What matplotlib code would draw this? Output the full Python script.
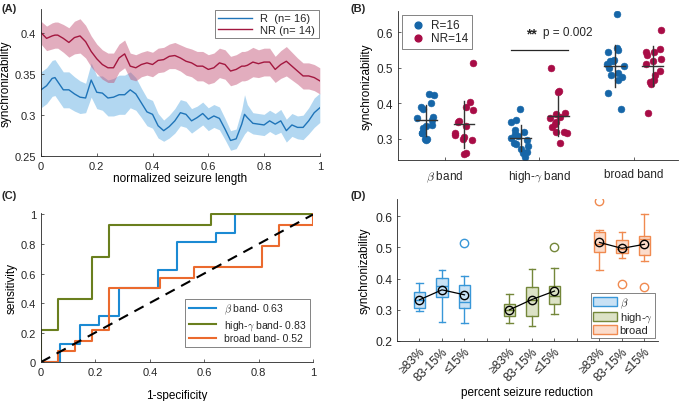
import numpy as np
import matplotlib
matplotlib.use("Agg")
import matplotlib.pyplot as plt
from matplotlib.patches import Patch

plt.rcParams['font.family'] = ['Liberation Sans', 'DejaVu Sans']
plt.rcParams['mathtext.fontset'] = 'cm'
plt.rcParams['axes.linewidth'] = 0.6
plt.rcParams['xtick.direction'] = 'in'
plt.rcParams['ytick.direction'] = 'in'
plt.rcParams['xtick.major.size'] = 2.5
plt.rcParams['ytick.major.size'] = 2.5
plt.rcParams['xtick.major.width'] = 0.5
plt.rcParams['ytick.major.width'] = 0.5
plt.rcParams['text.color'] = '#262626'
plt.rcParams['axes.edgecolor'] = '#262626'
plt.rcParams['xtick.color'] = '#262626'
plt.rcParams['ytick.color'] = '#262626'

# ---------------- data: (A) time course ----------------
a_x = [0, 0.02, 0.04, 0.05, 0.06, 0.08, 0.10, 0.12, 0.14, 0.16, 0.18, 0.20, 0.22,
       0.24, 0.26, 0.28, 0.30, 0.32, 0.34, 0.36, 0.38, 0.40, 0.42, 0.44, 0.46,
       0.48, 0.50, 0.52, 0.54, 0.56, 0.58, 0.60, 0.62, 0.64, 0.66, 0.68, 0.70,
       0.72, 0.73, 0.74, 0.76, 0.78, 0.80, 0.82, 0.84, 0.86, 0.88, 0.90, 0.92,
       0.94, 0.96, 0.98, 1.00]
r_mean = [0.331, 0.336, 0.345, 0.346, 0.341, 0.331, 0.331, 0.326, 0.322, 0.321,
          0.343, 0.328, 0.327, 0.321, 0.322, 0.325, 0.325, 0.331, 0.326, 0.315,
          0.304, 0.301, 0.287, 0.281, 0.286, 0.293, 0.303, 0.301, 0.293, 0.297,
          0.302, 0.295, 0.299, 0.296, 0.283, 0.269, 0.271, 0.289, 0.301, 0.297,
          0.290, 0.289, 0.288, 0.293, 0.289, 0.293, 0.281, 0.288, 0.285, 0.285,
          0.293, 0.303, 0.309]
r_sem = [0.022, 0.022, 0.022, 0.022, 0.022, 0.022, 0.022, 0.021, 0.020, 0.018,
         0.021, 0.020, 0.021, 0.022, 0.023, 0.024, 0.024, 0.022, 0.020, 0.018,
         0.017, 0.017, 0.015, 0.013, 0.014, 0.015, 0.016, 0.016, 0.015, 0.014,
         0.014, 0.014, 0.014, 0.014, 0.013, 0.012, 0.012, 0.018, 0.024, 0.016,
         0.013, 0.013, 0.013, 0.013, 0.013, 0.014, 0.014, 0.014, 0.014, 0.015,
         0.016, 0.018, 0.018]
nr_mean = [0.401, 0.394, 0.397, 0.398, 0.398, 0.394, 0.389, 0.395, 0.397, 0.390,
           0.378, 0.369, 0.362, 0.358, 0.358, 0.370, 0.375, 0.360, 0.358, 0.362,
           0.364, 0.362, 0.367, 0.368, 0.372, 0.373, 0.370, 0.366, 0.364, 0.360,
           0.360, 0.356, 0.358, 0.364, 0.362, 0.354, 0.356, 0.360, 0.360, 0.361,
           0.365, 0.363, 0.365, 0.365, 0.356, 0.362, 0.366, 0.360, 0.354, 0.348,
           0.348, 0.346, 0.342]
nr_sem = [0.014, 0.015, 0.016, 0.016, 0.016, 0.017, 0.018, 0.020, 0.021, 0.020,
          0.019, 0.018, 0.018, 0.018, 0.018, 0.017, 0.017, 0.016, 0.016, 0.015,
          0.015, 0.015, 0.015, 0.015, 0.015, 0.016, 0.016, 0.017, 0.017, 0.018,
          0.018, 0.018, 0.018, 0.018, 0.018, 0.018, 0.018, 0.018, 0.018, 0.018,
          0.018, 0.017, 0.017, 0.017, 0.016, 0.017, 0.018, 0.017, 0.016, 0.016,
          0.016, 0.016, 0.016]

# ---------------- data: (B) per-patient synchronizability ----------------
bands_b = ['$\\beta$ band', 'high-$\\gamma$ band', 'broad band']
beta_r = [0.427, 0.424, 0.402, 0.391, 0.385, 0.362, 0.360, 0.352, 0.339, 0.336,
          0.330, 0.317, 0.317, 0.301, 0.297, 0.299]
beta_nr = [0.514, 0.405, 0.390, 0.380, 0.350, 0.347, 0.336, 0.318, 0.310, 0.305,
           0.301, 0.296, 0.260, 0.258]
gamma_r = [0.383, 0.353, 0.349, 0.324, 0.320, 0.313, 0.308, 0.304, 0.296, 0.290,
           0.285, 0.280, 0.273, 0.264, 0.260, 0.250]
gamma_nr = [0.500, 0.435, 0.433, 0.374, 0.371, 0.362, 0.360, 0.348, 0.341, 0.334,
            0.320, 0.320, 0.318, 0.288]
broad_r = [0.651, 0.556, 0.550, 0.545, 0.521, 0.520, 0.518, 0.510, 0.505, 0.500,
           0.485, 0.480, 0.475, 0.465, 0.428, 0.385]
broad_nr = [0.606, 0.552, 0.545, 0.545, 0.535, 0.525, 0.520, 0.510, 0.490, 0.480,
            0.465, 0.460, 0.455, 0.373]

# ---------------- data: (C) ROC curves ----------------
roc_beta_x = [0, 1/14, 1/14, 2/14, 2/14, 3/14, 3/14, 4/14, 4/14, 6/14, 6/14, 7/14,
              7/14, 9/14, 9/14, 10/14, 10/14, 1]
roc_beta_y = [0, 0, 2/16, 2/16, 4/16, 4/16, 5/16, 5/16, 8/16, 8/16, 10/16, 10/16,
              13/16, 13/16, 14/16, 14/16, 1, 1]
roc_gamma_x = [0, 0, 1/16, 1/16, 3/16, 3/16, 4/16, 4/16, 10/16, 10/16, 1]
roc_gamma_y = [0, 3/14, 3/14, 6/14, 6/14, 10/14, 10/14, 13/14, 13/14, 1, 1]
roc_broad_x = [0, 1/16, 1/16, 2/16, 2/16, 3/16, 3/16, 4/16, 4/16, 7/16, 7/16, 9/16,
               9/16, 13/16, 13/16, 14/16, 14/16, 1, 1]
roc_broad_y = [0, 0, 1/14, 1/14, 2/14, 2/14, 3/14, 3/14, 7/14, 7/14, 8/14, 8/14,
               9/14, 9/14, 11/14, 11/14, 13/14, 13/14, 1]
roc_labels = ['$\\beta$ band- 0.63', 'high-$\\gamma$ band- 0.83', 'broad band- 0.52']

# ---------------- data: (D) box plots by seizure reduction ----------------
groups_d = ['\u226583%', '83-15%', '\u226415%']
beta_q1 = [0.306, 0.340, 0.305]
beta_med = [0.330, 0.375, 0.324]
beta_q3 = [0.357, 0.401, 0.379]
beta_lo = [0.297, 0.260, 0.258]
beta_hi = [0.385, 0.428, 0.407]
beta_fl = [[], [], [0.513]]
beta_mean = [0.332, 0.364, 0.348]
gam_q1 = [0.281, 0.281, 0.318]
gam_med = [0.300, 0.330, 0.344]
gam_q3 = [0.319, 0.374, 0.375]
gam_lo = [0.257, 0.249, 0.287]
gam_hi = [0.351, 0.432, 0.434]
gam_fl = [[], [], [0.500]]
gam_mean = [0.300, 0.333, 0.360]
brd_q1 = [0.484, 0.482, 0.476]
brd_med = [0.512, 0.494, 0.526]
brd_q3 = [0.548, 0.524, 0.538]
brd_lo = [0.428, 0.465, 0.457]
brd_hi = [0.557, 0.548, 0.606]
brd_fl = [[0.650], [0.383], [0.374]]
brd_mean = [0.516, 0.497, 0.510]

fig = plt.figure(figsize=(6.8, 4.02), dpi=100)

# ================= (A) =================
axA = fig.add_axes([0.0603, 0.6095, 0.410, 0.3657])
c_r, c_nr = '#1F74B8', '#A3173F'
axA.fill_between(a_x, np.array(r_mean) - np.array(r_sem), np.array(r_mean) + np.array(r_sem),
                 color='#55A8E0', alpha=0.45, lw=0)
axA.fill_between(a_x, np.array(nr_mean) - np.array(nr_sem), np.array(nr_mean) + np.array(nr_sem),
                 color='#C04B70', alpha=0.45, lw=0)
axA.plot(a_x, r_mean, color=c_r, lw=1.0, label='R  (n= 16)')
axA.plot(a_x, nr_mean, color=c_nr, lw=1.0, label='NR (n= 14)')
axA.set_xlim(0, 1)
axA.set_ylim(0.25, 0.43)
axA.set_xticks([0, 0.2, 0.4, 0.6, 0.8, 1])
axA.set_xticklabels(['0', '0.2', '0.4', '0.6', '0.8', '1'])
axA.set_yticks([0.25, 0.3, 0.35, 0.4])
axA.set_yticklabels(['0.25', '0.3', '0.35', '0.4'])
axA.tick_params(labelsize=8)
axA.set_xlabel('normalized seizure length', fontsize=8.5, labelpad=1)
axA.set_ylabel('synchronizability', fontsize=8.5, labelpad=2)
axA.legend(loc='upper right', fontsize=8, frameon=True, fancybox=False,
           edgecolor='#262626', handlelength=3.0, borderpad=0.3, labelspacing=0.1,
           borderaxespad=0.1).get_frame().set_linewidth(0.5)

# ================= (B) =================
axB = fig.add_axes([0.5853, 0.5995, 0.4117, 0.3706])
c_bR, c_bNR = '#1666A8', '#A80C46'
b_data = [(beta_r, beta_nr), (gamma_r, gamma_nr), (broad_r, broad_nr)]
rng = np.random.default_rng(7)
for i, (dr, dnr) in enumerate(b_data):
    for vals, off, col in [(dr, -0.2, c_bR), (dnr, 0.2, c_bNR)]:
        vals = np.array(vals)
        xs = i + 1 + off + rng.uniform(-0.1, 0.1, len(vals))
        axB.scatter(xs, vals, s=24, color=col, edgecolors=col, linewidths=0.4, zorder=2)
        m, sd = vals.mean(), vals.std(ddof=1)
        axB.plot([i + 1 + off - 0.11, i + 1 + off + 0.11], [m, m], color='#333333', lw=1.0, zorder=3)
        axB.plot([i + 1 + off, i + 1 + off], [m - sd, m + sd], color='#333333', lw=1.0, zorder=3)
axB.scatter([], [], s=24, color=c_bR, label='R=16')
axB.scatter([], [], s=24, color=c_bNR, label='NR=14')
axB.plot([1.7, 2.3], [0.55, 0.55], color='#262626', lw=0.9)
axB.text(1.86, 0.597, '**', fontsize=10, fontweight='bold', ha='left', va='center')
axB.text(2.04, 0.6, 'p = 0.002', fontsize=8.5, ha='left', va='center')
axB.set_xlim(0.5, 3.47)
axB.set_ylim(0.241, 0.659)
axB.set_xticks([1, 2, 3])
axB.set_xticklabels(bands_b)
axB.set_yticks([0.3, 0.4, 0.5, 0.6])
axB.tick_params(labelsize=8.5)
axB.tick_params(axis='x', pad=6)
axB.set_ylabel('synchronizability', fontsize=8.5, labelpad=3)
axB.legend(loc='upper left', fontsize=8.5, frameon=True, fancybox=False, edgecolor='#262626',
           handletextpad=0.1, borderpad=0.35, labelspacing=0.1, borderaxespad=0.35,
           scatterpoints=1).get_frame().set_linewidth(0.5)

# ================= (C) =================
axC = fig.add_axes([0.0603, 0.097, 0.400, 0.3706])
c_b, c_g, c_o = '#1B8AD3', '#6A7F1E', '#EB6A2E'
axC.plot(roc_beta_x, roc_beta_y, color=c_b, lw=1.5, label=roc_labels[0])
axC.plot(roc_gamma_x, roc_gamma_y, color=c_g, lw=1.5, label=roc_labels[1])
axC.plot(roc_broad_x, roc_broad_y, color=c_o, lw=1.5, label=roc_labels[2])
axC.plot([0, 1], [0, 1], color='black', lw=1.5, ls=(0, (5, 3.5)))
axC.set_xlim(0, 1)
axC.set_ylim(0, 1.01)
ticks = [0, 0.2, 0.4, 0.6, 0.8, 1]
tl = ['0', '0.2', '0.4', '0.6', '0.8', '1']
axC.set_xticks(ticks)
axC.set_xticklabels(tl)
axC.set_yticks(ticks)
axC.set_yticklabels(tl)
axC.tick_params(labelsize=8)
axC.set_xlabel('1-specificity', fontsize=8.5, labelpad=9)
axC.set_ylabel('sensitivity', fontsize=8.5, labelpad=2)
axC.legend(loc='lower right', bbox_to_anchor=(0.99, 0.1), fontsize=7.5, frameon=True,
           fancybox=False, edgecolor='#262626', handlelength=2.6, borderpad=0.35,
           labelspacing=0.15, borderaxespad=0).get_frame().set_linewidth(0.5)

# ================= (D) =================
axD = fig.add_axes([0.5838, 0.1493, 0.3838, 0.353])
band_sets = [
    (beta_q1, beta_med, beta_q3, beta_lo, beta_hi, beta_fl, beta_mean, '#3897D8', '#C9E1F4', '$\\beta$'),
    (gam_q1, gam_med, gam_q3, gam_lo, gam_hi, gam_fl, gam_mean, '#74873A', '#DCE2C6', 'high-$\\gamma$'),
    (brd_q1, brd_med, brd_q3, brd_lo, brd_hi, brd_fl, brd_mean, '#F08A50', '#FBDCCB', 'broad'),
]
handles = []
for g, (q1, med, q3, lo, hi, fl, mn, ec, fc, lab) in enumerate(band_sets):
    pos = [g * 4 + 1, g * 4 + 2, g * 4 + 3]
    stats = [dict(q1=q1[k], med=med[k], q3=q3[k], whislo=lo[k], whishi=hi[k], fliers=fl[k])
             for k in range(3)]
    axD.bxp(stats, positions=pos, widths=0.5, capwidths=0.28, patch_artist=True,
            showfliers=True,
            boxprops=dict(facecolor=fc, edgecolor=ec, lw=1.0),
            medianprops=dict(color=ec, lw=1.0),
            whiskerprops=dict(color=ec, lw=1.0),
            capprops=dict(color=ec, lw=1.0),
            flierprops=dict(marker='o', markerfacecolor='none', markeredgecolor=ec,
                            markersize=6, markeredgewidth=1.0))
    axD.plot(pos, mn, color='black', lw=0.9, marker='o', markerfacecolor='none',
             markeredgecolor='black', markersize=6, markeredgewidth=1.0, zorder=5)
    handles.append(Patch(facecolor=fc, edgecolor=ec, lw=1.0, label=lab))
axD.set_xlim(0, 11.6)
axD.set_ylim(0.2, 0.655)
axD.set_xticks(range(1, 12))
axD.set_xticklabels(groups_d + [''] + groups_d + [''] + groups_d, rotation=45,
                    ha='right', rotation_mode='anchor')
axD.set_yticks([0.2, 0.3, 0.4, 0.5, 0.6])
axD.tick_params(labelsize=8.7)
axD.tick_params(axis='x', pad=3)
axD.set_ylabel('synchronizability', fontsize=8.5, labelpad=3)
axD.set_xlabel('percent seizure reduction', fontsize=8.5, labelpad=2)
axD.legend(handles=handles, loc='lower right', fontsize=8, frameon=True, fancybox=False,
           edgecolor='#262626', handlelength=2.2, handleheight=0.9, handletextpad=0.2,
           borderpad=0.2, labelspacing=0.05,
           borderaxespad=0.3).get_frame().set_linewidth(0.5)

for ax in (axA, axB, axC, axD):
    ax.spines['top'].set_visible(False)
    ax.spines['right'].set_visible(False)

fig.text(0.002, 0.99, '(A)', fontsize=8, fontweight='bold', va='top')
fig.text(0.516, 0.99, '(B)', fontsize=8, fontweight='bold', va='top')
fig.text(0.002, 0.525, '(C)', fontsize=8, fontweight='bold', va='top')
fig.text(0.516, 0.525, '(D)', fontsize=8, fontweight='bold', va='top')

fig.savefig('out.png', dpi=100)
